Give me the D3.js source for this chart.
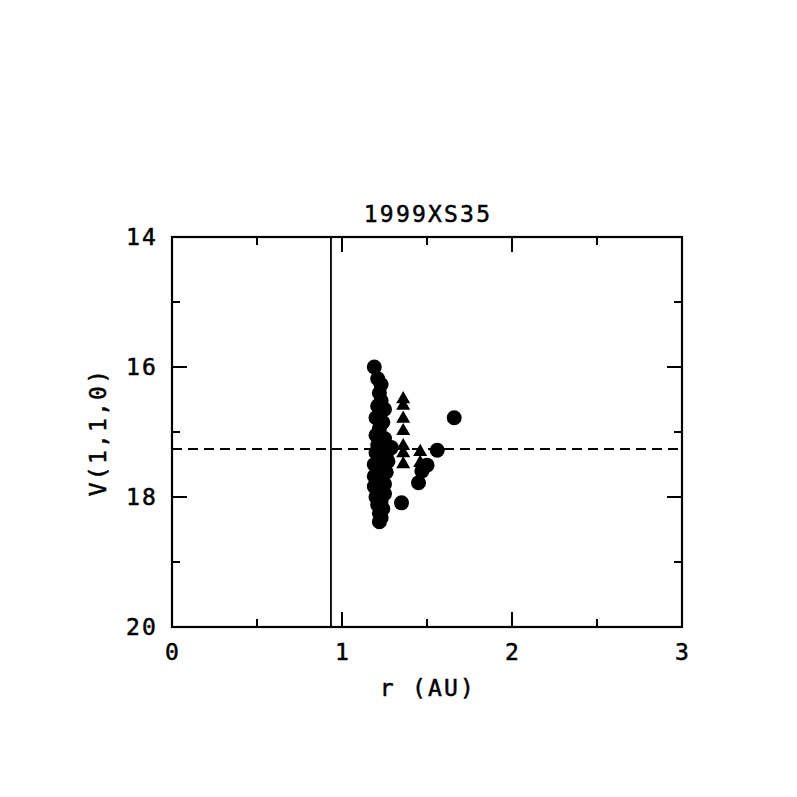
<!DOCTYPE html>
<html>
<head>
<meta charset="utf-8">
<script src="https://cdn.jsdelivr.net/npm/d3@7"></script>
<style>
  body { margin: 0; background: #fff; }
  text { font-family: "DejaVu Sans Mono", monospace; fill: #000; }
</style>
</head>
<body>
<svg id="chart" width="797" height="797"></svg>
<script>
const title = "1999XS35";
const xLabel = "r (AU)";
const yLabel = "V(1,1,0)";
const xTicks = [0, 1, 2, 3];
const xMinor = [0.5, 1.5, 2.5];
const yTicks = [14, 16, 18, 20];
const yMinor = [15, 17, 19];
const vertLine = 0.935;
const meanV = 17.26;

// circles: [r, V]
const circles = [
  [1.19, 16.00], [1.21, 16.18], [1.23, 16.27], [1.22, 16.40], [1.23, 16.52],
  [1.21, 16.60], [1.25, 16.65], [1.20, 16.78], [1.24, 16.85], [1.22, 16.95],
  [1.20, 17.05], [1.25, 17.10], [1.21, 17.20], [1.23, 17.25], [1.29, 17.24],
  [1.20, 17.32], [1.26, 17.35], [1.22, 17.42], [1.19, 17.50], [1.25, 17.50],
  [1.27, 17.45], [1.21, 17.58], [1.26, 17.62], [1.19, 17.68], [1.23, 17.72],
  [1.25, 17.80], [1.19, 17.84], [1.22, 17.90], [1.25, 17.95], [1.20, 18.00],
  [1.23, 18.06], [1.21, 18.12], [1.24, 18.18], [1.22, 18.25], [1.23, 18.32],
  [1.22, 18.38], [1.35, 18.09], [1.45, 17.78], [1.47, 17.60], [1.50, 17.51],
  [1.56, 17.28], [1.66, 16.78]
];
// triangles: [r, V]
const triangles = [
  [1.36, 16.48], [1.36, 16.58], [1.36, 16.78], [1.36, 16.97], [1.36, 17.20],
  [1.36, 17.31], [1.36, 17.48], [1.46, 17.29], [1.46, 17.46]
];

const svg = d3.select("#chart");
const x = d3.scaleLinear().domain([0, 3]).range([172, 682]);
const y = d3.scaleLinear().domain([14, 20]).range([237, 627]);

// data marks
const g = svg.append("g");
g.selectAll("circle.pt").data(circles).join("circle")
  .attr("class", "pt")
  .attr("cx", d => x(d[0])).attr("cy", d => y(d[1])).attr("r", 7.5)
  .attr("fill", "#000");
const tri = d3.symbol().type(d3.symbolTriangle).size(85);
g.selectAll("path.tri").data(triangles).join("path")
  .attr("class", "tri")
  .attr("transform", d => `translate(${x(d[0])},${y(d[1]) + 1})`)
  .attr("d", tri).attr("fill", "#000");

// reference lines
svg.append("line")
  .attr("x1", x(vertLine)).attr("x2", x(vertLine))
  .attr("y1", y(14)).attr("y2", y(20))
  .attr("stroke", "#000").attr("stroke-width", 1.8);
svg.append("line")
  .attr("x1", x(0)).attr("x2", x(3))
  .attr("y1", y(meanV)).attr("y2", y(meanV))
  .attr("stroke", "#000").attr("stroke-width", 2)
  .attr("stroke-dasharray", "10,6");

// frame and ticks
svg.append("rect")
  .attr("x", x(0)).attr("y", y(14))
  .attr("width", x(3) - x(0)).attr("height", y(20) - y(14))
  .attr("fill", "none").attr("stroke", "#000").attr("stroke-width", 2.2);

const tickLines = [];
xTicks.forEach(t => tickLines.push({ v: t, len: 15, ax: "x" }));
xMinor.forEach(t => tickLines.push({ v: t, len: 8, ax: "x" }));
yTicks.forEach(t => tickLines.push({ v: t, len: 15, ax: "y" }));
yMinor.forEach(t => tickLines.push({ v: t, len: 8, ax: "y" }));
const tk = svg.append("g").attr("stroke", "#000").attr("stroke-width", 2);
tickLines.forEach(t => {
  if (t.ax === "x") {
    const px = x(t.v);
    tk.append("line").attr("x1", px).attr("x2", px).attr("y1", y(20)).attr("y2", y(20) - t.len);
    tk.append("line").attr("x1", px).attr("x2", px).attr("y1", y(14)).attr("y2", y(14) + t.len);
  } else {
    const py = y(t.v);
    tk.append("line").attr("x1", x(0)).attr("x2", x(0) + t.len).attr("y1", py).attr("y2", py);
    tk.append("line").attr("x1", x(3)).attr("x2", x(3) - t.len).attr("y1", py).attr("y2", py);
  }
});

// labels
const fs = 23, ls = 2.2;
const lab = sel => sel.attr("font-size", fs).attr("letter-spacing", ls)
  .attr("stroke", "#000").attr("stroke-width", 0.5);
svg.selectAll("text.xt").data(xTicks).join("text")
  .attr("class", "xt")
  .attr("x", d => x(d) + 1).attr("y", 660)
  .attr("text-anchor", "middle").call(lab)
  .text(d => d);
svg.selectAll("text.yt").data(yTicks).join("text")
  .attr("class", "yt")
  .attr("x", 158).attr("y", d => y(d) + 8)
  .attr("text-anchor", "end").call(lab)
  .text(d => d);
svg.append("text")
  .attr("x", 428).attr("y", 222).attr("text-anchor", "middle")
  .call(lab).text(title);
svg.append("text")
  .attr("x", 428).attr("y", 696).attr("text-anchor", "middle")
  .call(lab).text(xLabel);
svg.append("text")
  .attr("transform", "translate(106,432) rotate(-90)").attr("text-anchor", "middle")
  .call(lab).text(yLabel);
</script>
</body>
</html>
